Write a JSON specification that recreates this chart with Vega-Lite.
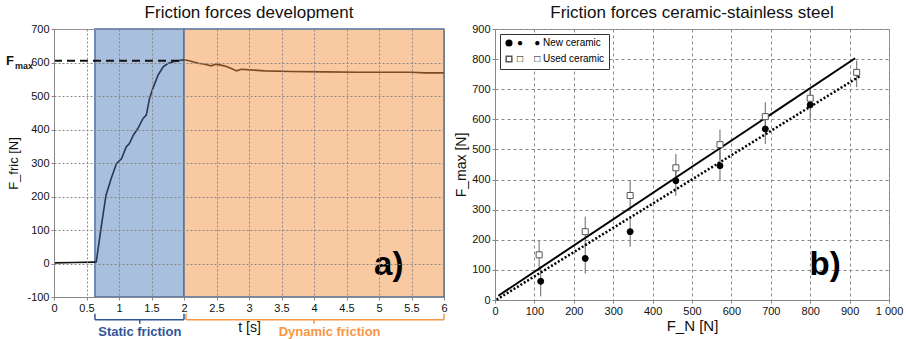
{
  "$schema": "https://vega.github.io/schema/vega-lite/v6.json",
  "padding": {"left": 5, "top": 3, "right": 5, "bottom": 0},
  "spacing": 6,
  "resolve": {"scale": {"fill": "independent", "stroke": "independent", "color": "independent", "shape": "independent"}, "legend": {"fill": "independent", "stroke": "independent", "color": "independent", "shape": "independent"}},
  "config": {
    "font": "Liberation Sans",
    "title": {"fontSize": 17, "fontWeight": "normal", "font": "Liberation Sans", "color": "#111", "offset": 1},
    "axis": {"labelFont": "Liberation Sans", "labelFontSize": 11, "labelColor": "#111", "titleFont": "Liberation Sans", "titleFontWeight": "normal", "titleColor": "#111", "domainColor": "#888", "tickColor": "#888", "tickSize": 3, "labelPadding": 2, "gridColor": "#888", "tickCount": 30, "labelFlush": false},
    "view": {"stroke": "#999"},
    "legend": {"labelFont": "Liberation Sans"}
  },
  "datasets": {
    "curve": [
      {"t": 0, "f": 2, "seg": "base"}, {"t": 0.3, "f": 3, "seg": "base"}, {"t": 0.63, "f": 4, "seg": "base"},
      {"t": 0.63, "f": 4, "seg": "static"}, {"t": 0.65, "f": 5, "seg": "static"}, {"t": 0.73, "f": 114, "seg": "static"},
      {"t": 0.8, "f": 204, "seg": "static"}, {"t": 0.88, "f": 254, "seg": "static"}, {"t": 0.96, "f": 298, "seg": "static"},
      {"t": 1.04, "f": 313, "seg": "static"}, {"t": 1.11, "f": 348, "seg": "static"}, {"t": 1.16, "f": 358, "seg": "static"},
      {"t": 1.22, "f": 383, "seg": "static"}, {"t": 1.29, "f": 403, "seg": "static"}, {"t": 1.37, "f": 433, "seg": "static"},
      {"t": 1.42, "f": 443, "seg": "static"}, {"t": 1.47, "f": 493, "seg": "static"}, {"t": 1.52, "f": 522, "seg": "static"},
      {"t": 1.6, "f": 562, "seg": "static"}, {"t": 1.68, "f": 587, "seg": "static"}, {"t": 1.75, "f": 597, "seg": "static"},
      {"t": 1.86, "f": 604, "seg": "static"}, {"t": 2.0, "f": 608, "seg": "static"},
      {"t": 2.0, "f": 608, "seg": "dynamic"}, {"t": 2.08, "f": 605, "seg": "dynamic"}, {"t": 2.22, "f": 598, "seg": "dynamic"},
      {"t": 2.32, "f": 595, "seg": "dynamic"}, {"t": 2.42, "f": 590, "seg": "dynamic"}, {"t": 2.49, "f": 595, "seg": "dynamic"},
      {"t": 2.62, "f": 590, "seg": "dynamic"}, {"t": 2.72, "f": 583, "seg": "dynamic"}, {"t": 2.81, "f": 575, "seg": "dynamic"},
      {"t": 2.88, "f": 580, "seg": "dynamic"}, {"t": 3.01, "f": 578, "seg": "dynamic"}, {"t": 3.24, "f": 575, "seg": "dynamic"},
      {"t": 3.65, "f": 573, "seg": "dynamic"}, {"t": 4.16, "f": 572, "seg": "dynamic"}, {"t": 4.68, "f": 571, "seg": "dynamic"},
      {"t": 5.5, "f": 571, "seg": "dynamic"}, {"t": 5.7, "f": 569, "seg": "dynamic"}, {"t": 6.0, "f": 569, "seg": "dynamic"}
    ],
    "regions": [
      {"start": 0.63, "end": 2, "region": "static"},
      {"start": 2, "end": 6, "region": "dynamic"}
    ],
    "brackets": [
      {"xa": 0.63, "xb": 2, "ya": -168, "yb": -168, "grp": "static"},
      {"xa": 0.63, "xb": 0.63, "ya": -150, "yb": -168, "grp": "static"},
      {"xa": 2, "xb": 2, "ya": -150, "yb": -168, "grp": "static"},
      {"xa": 1.32, "xb": 1.32, "ya": -168, "yb": -180, "grp": "static"},
      {"xa": 2.03, "xb": 6, "ya": -168, "yb": -168, "grp": "dynamic"},
      {"xa": 2.03, "xb": 2.03, "ya": -150, "yb": -168, "grp": "dynamic"},
      {"xa": 6, "xb": 6, "ya": -150, "yb": -168, "grp": "dynamic"},
      {"xa": 4.0, "xb": 4.0, "ya": -168, "yb": -180, "grp": "dynamic"}
    ],
    "bracketText": [
      {"t": 1.32, "f": -205, "label": "Static friction", "grp": "static"},
      {"t": 4.24, "f": -205, "label": "Dynamic friction", "grp": "dynamic"}
    ],
    "points": [
      {"fn": 116, "fmax": 62, "lo": 12, "hi": 112, "type": "New ceramic"},
      {"fn": 229, "fmax": 138, "lo": 88, "hi": 188, "type": "New ceramic"},
      {"fn": 343, "fmax": 227, "lo": 177, "hi": 277, "type": "New ceramic"},
      {"fn": 459, "fmax": 396, "lo": 346, "hi": 446, "type": "New ceramic"},
      {"fn": 571, "fmax": 446, "lo": 396, "hi": 496, "type": "New ceramic"},
      {"fn": 686, "fmax": 568, "lo": 518, "hi": 618, "type": "New ceramic"},
      {"fn": 800, "fmax": 648, "lo": 601, "hi": 695, "type": "New ceramic"},
      {"fn": 112, "fmax": 150, "lo": 100, "hi": 198, "type": "Used ceramic"},
      {"fn": 229, "fmax": 227, "lo": 177, "hi": 277, "type": "Used ceramic"},
      {"fn": 343, "fmax": 347, "lo": 297, "hi": 397, "type": "Used ceramic"},
      {"fn": 459, "fmax": 439, "lo": 393, "hi": 485, "type": "Used ceramic"},
      {"fn": 571, "fmax": 516, "lo": 466, "hi": 566, "type": "Used ceramic"},
      {"fn": 686, "fmax": 609, "lo": 561, "hi": 657, "type": "Used ceramic"},
      {"fn": 800, "fmax": 670, "lo": 640, "hi": 700, "type": "Used ceramic"},
      {"fn": 918, "fmax": 756, "lo": 707, "hi": 795, "type": "Used ceramic"}
    ],
    "fits": [
      {"fn": 8.5, "fmax": 14, "line": "used"}, {"fn": 914, "fmax": 803, "line": "used"},
      {"fn": 4, "fmax": 1, "line": "new"}, {"fn": 928, "fmax": 745, "line": "new"}
    ]
  },
  "hconcat": [
    {
      "width": 390, "height": 268,
      "title": "Friction forces development",
      "layer": [
        {
          "data": {"name": "regions"},
          "transform": [{"filter": "datum.region == 'static'"}],
          "mark": {"type": "rect", "fill": "#a8bfdd", "stroke": "#4f70a5", "strokeWidth": 1.5},
          "encoding": {
            "x": {"field": "start", "type": "quantitative", "title": "t [s]"},
            "x2": {"field": "end"},
            "y": {"datum": -100, "type": "quantitative", "title": "F_fric [N]"},
            "y2": {"datum": 700}
          }
        },
        {
          "data": {"name": "regions"},
          "transform": [{"filter": "datum.region == 'dynamic'"}],
          "mark": {"type": "rect", "fill": "#f9c9a1", "stroke": "#4f70a5", "strokeWidth": 1.5},
          "encoding": {
            "x": {"field": "start", "type": "quantitative", "title": "t [s]"},
            "x2": {"field": "end"},
            "y": {"datum": -100, "type": "quantitative", "title": "F_fric [N]"},
            "y2": {"datum": 700}
          }
        },
        {
          "data": {"name": "curve"},
          "mark": {"type": "line", "strokeWidth": 1.6, "clip": true},
          "encoding": {
            "x": {"field": "t", "type": "quantitative", "title": "t [s]",
                  "scale": {"domain": [0, 6], "nice": false},
                  "axis": {"values": [0, 0.5, 1, 1.5, 2, 2.5, 3, 3.5, 4, 4.5, 5, 5.5, 6], "format": "~g", "grid": true, "gridDash": [2, 2], "titleFontSize": 14, "titlePadding": 7, "zindex": 1}},
            "y": {"field": "f", "type": "quantitative", "title": "F_fric [N]",
                  "scale": {"domain": [-100, 700], "nice": false},
                  "axis": {"values": [-100, 0, 100, 200, 300, 400, 500, 600, 700], "labelExpr": "datum.value < 0 ? '-' + abs(datum.value) : datum.label", "grid": true, "gridDash": [2, 2], "titleFontSize": 13, "titlePadding": 6, "zindex": 1}},
            "detail": {"field": "seg"},
            "color": {"field": "seg", "type": "nominal", "scale": {"domain": ["base", "static", "dynamic"], "range": ["#111111", "#26395a", "#7d4a22"]}, "legend": null}
          }
        },
        {
          "data": {"values": [{}]},
          "mark": {"type": "rule", "strokeDash": [8, 5], "strokeWidth": 2, "color": "#111"},
          "encoding": {
            "x": {"datum": 0, "type": "quantitative"},
            "x2": {"datum": 2},
            "y": {"datum": 605, "type": "quantitative"}
          }
        },
        {
          "data": {"values": [{}]},
          "mark": {"type": "text", "text": "F", "fontSize": 13, "fontWeight": "bold", "align": "left", "baseline": "alphabetic", "clip": false, "color": "#111"},
          "encoding": {"x": {"datum": -0.74, "type": "quantitative"}, "y": {"datum": 592, "type": "quantitative"}}
        },
        {
          "data": {"values": [{}]},
          "mark": {"type": "text", "text": "max", "fontSize": 9, "fontWeight": "bold", "align": "left", "baseline": "alphabetic", "clip": false, "color": "#111"},
          "encoding": {"x": {"datum": -0.6, "type": "quantitative"}, "y": {"datum": 581, "type": "quantitative"}}
        },
        {
          "data": {"values": [{}]},
          "mark": {"type": "text", "text": "a)", "fontSize": 33, "fontWeight": "bold", "align": "center", "baseline": "alphabetic", "color": "#000"},
          "encoding": {"x": {"datum": 5.15, "type": "quantitative"}, "y": {"datum": -34, "type": "quantitative"}}
        },
        {
          "data": {"name": "brackets"},
          "mark": {"type": "rule", "strokeWidth": 1.5, "clip": false},
          "encoding": {
            "x": {"field": "xa", "type": "quantitative"},
            "x2": {"field": "xb"},
            "y": {"field": "ya", "type": "quantitative"},
            "y2": {"field": "yb"},
            "stroke": {"field": "grp", "type": "nominal", "scale": {"domain": ["static", "dynamic"], "range": ["#2f5597", "#f79646"]}, "legend": null}
          }
        },
        {
          "data": {"name": "bracketText"},
          "mark": {"type": "text", "fontSize": 13, "fontWeight": "bold", "align": "center", "baseline": "middle", "clip": false},
          "encoding": {
            "x": {"field": "t", "type": "quantitative"},
            "y": {"field": "f", "type": "quantitative"},
            "text": {"field": "label"},
            "fill": {"field": "grp", "type": "nominal", "scale": {"domain": ["static", "dynamic"], "range": ["#2f5597", "#f79646"]}, "legend": null}
          }
        }
      ]
    },
    {
      "width": 394, "height": 271,
      "title": "Friction forces ceramic-stainless steel",
      "layer": [
        {
          "data": {"name": "points"},
          "mark": {"type": "rule", "color": "#666", "strokeWidth": 1},
          "encoding": {
            "x": {"field": "fn", "type": "quantitative", "title": "F_N [N]",
                  "scale": {"domain": [0, 1000], "nice": false},
                  "axis": {"values": [0, 100, 200, 300, 400, 500, 600, 700, 800, 900, 1000], "labelExpr": "datum.value == 1000 ? '1 000' : datum.label", "grid": true, "gridDash": [3, 3], "titleFontSize": 15, "titlePadding": 2}},
            "y": {"field": "lo", "type": "quantitative", "title": "F_max [N]",
                  "scale": {"domain": [0, 900], "nice": false},
                  "axis": {"values": [0, 100, 200, 300, 400, 500, 600, 700, 800, 900], "grid": true, "gridDash": [3, 3], "titleFontSize": 14, "titlePadding": 3}},
            "y2": {"field": "hi"}
          }
        },
        {
          "data": {"name": "fits"},
          "transform": [{"filter": "datum.line == 'used'"}],
          "mark": {"type": "line", "color": "#000", "strokeWidth": 2},
          "encoding": {
            "x": {"field": "fn", "type": "quantitative", "title": "F_N [N]"},
            "y": {"field": "fmax", "type": "quantitative", "title": "F_max [N]"}
          }
        },
        {
          "data": {"name": "fits"},
          "transform": [{"filter": "datum.line == 'new'"}],
          "mark": {"type": "line", "color": "#000", "strokeWidth": 2.5, "strokeDash": [2, 2]},
          "encoding": {
            "x": {"field": "fn", "type": "quantitative", "title": "F_N [N]"},
            "y": {"field": "fmax", "type": "quantitative", "title": "F_max [N]"}
          }
        },
        {
          "data": {"name": "points"},
          "mark": {"type": "point", "filled": true, "size": 36, "strokeWidth": 1, "opacity": 1},
          "encoding": {
            "x": {"field": "fn", "type": "quantitative", "title": "F_N [N]"},
            "y": {"field": "fmax", "type": "quantitative", "title": "F_max [N]"},
            "shape": {"field": "type", "type": "nominal", "title": null, "scale": {"domain": ["New ceramic", "Used ceramic"], "range": ["circle", "square"]},
                      "legend": {"orient": "top-left", "offset": 5, "title": null, "strokeColor": "#333", "fillColor": "white", "padding": 4, "labelFontSize": 10, "rowPadding": 4, "symbolSize": 32, "labelOffset": 3, "labelExpr": "datum.label == 'New ceramic' ? '\u00a0\u00a0\u00a0\u00a0●\u00a0\u00a0\u00a0\u00a0●\u00a0New ceramic' : '\u00a0\u00a0\u00a0\u00a0□\u00a0\u00a0\u00a0\u00a0□\u00a0Used ceramic'"}},
            "fill": {"field": "type", "type": "nominal", "title": null, "scale": {"domain": ["New ceramic", "Used ceramic"], "range": ["#000000", "#ffffff"]}},
            "stroke": {"field": "type", "type": "nominal", "title": null, "scale": {"domain": ["New ceramic", "Used ceramic"], "range": ["#000000", "#555555"]}}
          }
        },
        {
          "data": {"values": [{}]},
          "mark": {"type": "text", "text": "b)", "fontSize": 33, "fontWeight": "bold", "align": "center", "baseline": "alphabetic", "color": "#000"},
          "encoding": {"x": {"datum": 838, "type": "quantitative"}, "y": {"datum": 83, "type": "quantitative"}}
        }
      ]
    }
  ]
}
